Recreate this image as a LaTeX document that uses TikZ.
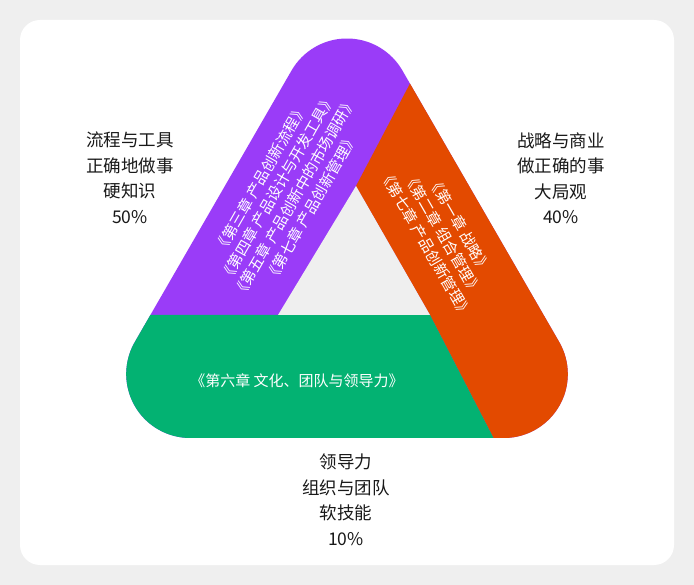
\documentclass[tikz,border=0pt]{standalone}
\usepackage{fontspec}
\setmainfont{Noto Sans CJK SC}
\definecolor{bgc}{HTML}{EFEFEF}
\definecolor{pur}{HTML}{9A3CF8}
\definecolor{ora}{HTML}{E34A00}
\definecolor{gre}{HTML}{03B272}
\definecolor{ing}{HTML}{EFEFEF}
\begin{document}
\begin{tikzpicture}[x=1pt,y=1pt,
  lbl/.style={align=center,font=\fontsize{17.5}{25.5}\selectfont,text=black!90},
  band/.style={align=center,text=white,font=\fontsize{15}{19.5}\selectfont}]
\fill[bgc] (0,0) rectangle (694,-585);
\useasboundingbox (0,0) rectangle (694,-585);
\fill[white,rounded corners=20pt] (20,-20) rectangle (674,-565);
\begin{scope}
\clip (190.2,-438) -- (503.8,-438) arc[start angle=-90,end angle=30,radius=64]
  -- (402.4,-70.5) arc[start angle=30,end angle=150,radius=64]
  -- (134.8,-342) arc[start angle=150,end angle=270,radius=64] -- cycle;
\fill[pur] (0,0) rectangle (694,-585);
\fill[ora] (454,0) -- (356,-186) -- (430,-315) -- (510,-470) -- (694,-470) -- (694,0) -- cycle;
\fill[gre] (0,-315) -- (430,-315) -- (510,-470) -- (0,-470) -- cycle;
\fill[ing] (278,-315) -- (356,-186) -- (430,-315) -- cycle;
\end{scope}
\node[band,rotate=60] (p) at (286,-193) {《第三章 产品创新流程》\\《第四章 产品设计与开发工具》\\《第五章 产品创新中的市场调研》\\《第七章 产品创新管理》};
\node[band,rotate=-60] (o) at (443,-234) {《第一章 战略》\\《第二章 组合管理》\\《第七章 产品创新管理》};
\node[band] (g) at (297,-381) {《第六章 文化、团队与领导力》};
\node[lbl] (l) at (130,-178) {流程与工具\\正确地做事\\硬知识\\50\%};
\node[lbl] (r) at (561,-178) {战略与商业\\做正确的事\\大局观\\40\%};
\node[lbl] (b) at (346,-500) {领导力\\组织与团队\\软技能\\10\%};
\end{tikzpicture}
\end{document}
